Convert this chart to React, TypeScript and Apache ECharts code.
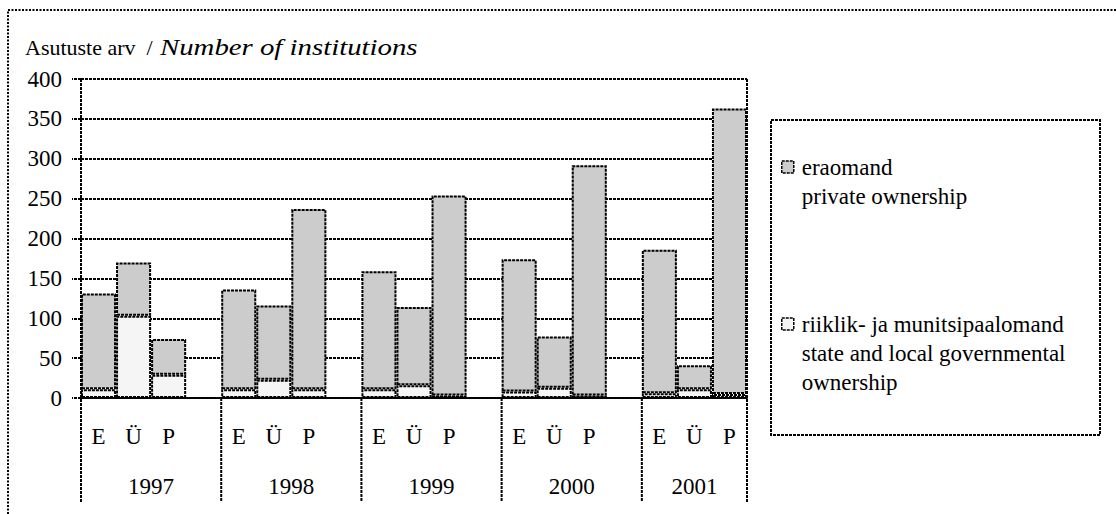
import React, { useEffect, useRef } from "react";
import * as echarts from "echarts";

const years = ["1997", "1998", "1999", "2000", "2001"];
const types = ["E", "Ü", "P"];
// order per year: E, Ü, P
const stateOwned = [
  [11, 103, 29],
  [11, 23, 11],
  [11, 16, 3],
  [8, 13, 3],
  [6, 11, 5],
];
const privateOwned = [
  [120, 67, 45],
  [125, 93, 226],
  [148, 98, 251],
  [166, 64, 289],
  [180, 30, 358],
];
const privateName = "eraomand\nprivate ownership";
const stateName = "riiklik- ja munitsipaalomand\nstate and local governmental\nownership";
const titleMain = "Asutuste arv  /";
const titleEn = "Number of institutions";
const yMin = 0;
const yMax = 400;
const yStep = 50;

const FONT = "Liberation Serif";
const DASH = [3, 1];
const FS = 23;

export default function App() {
  const ref = useRef<HTMLDivElement>(null);

  useEffect(() => {
    document.body.style.margin = "0";
    if (!ref.current) return;
    const chart = echarts.init(ref.current, null, { renderer: "svg" });

    const cats: string[] = [];
    const stateData: (number | string)[] = [];
    const privData: (number | string)[] = [];
    const boundaries: number[] = [];
    const centers: { pos: number; label: string }[] = [];
    years.forEach((y, i) => {
      const start = cats.length;
      boundaries.push(start);
      types.forEach((t, j) => {
        cats.push(t);
        stateData.push(stateOwned[i][j]);
        privData.push(privateOwned[i][j]);
      });
      if (i < years.length - 1) {
        cats.push("");
        stateData.push("-");
        privData.push("-");
      }
      centers.push({ pos: (start + cats.length) / 2, label: y });
    });
    const nSlots = cats.length;
    boundaries.push(nSlots);

    const lineStyle = { color: "#000", width: 2, type: DASH };
    const txt = { fontFamily: FONT, fontSize: FS, color: "#000", fontWeight: "normal" };

    chart.setOption({
      animation: false,
      textStyle: { fontFamily: FONT, color: "#000" },
      grid: { left: 81, top: 79, width: 666, height: 319, containLabel: false },
      legend: [
        {
          data: [privateName],
          left: 781,
          top: 167 - 43.5,
          padding: 0,
          orient: "vertical",
          itemWidth: 12,
          itemHeight: 12,
          icon: "rect",
          selectedMode: false,
          formatter: (n: string) => "\n" + n,
          itemStyle: { color: "#cccccc", borderColor: "#000", borderWidth: 1.5, borderType: DASH },
          textStyle: { ...txt, lineHeight: 29, padding: [0, 0, 0, 3] },
        },
        {
          data: [stateName],
          left: 781,
          top: 324 - 72.5,
          padding: 0,
          orient: "vertical",
          itemWidth: 12,
          itemHeight: 12,
          icon: "rect",
          selectedMode: false,
          formatter: (n: string) => "\n\n" + n,
          itemStyle: { color: "#f5f5f5", borderColor: "#000", borderWidth: 1.5, borderType: DASH },
          textStyle: { ...txt, lineHeight: 29, padding: [0, 0, 0, 3] },
        },
      ],
      xAxis: [
        {
          type: "category",
          data: cats,
          boundaryGap: true,
          axisLine: { show: true, lineStyle },
          axisTick: { show: false },
          splitLine: { show: false },
          axisLabel: { ...txt, interval: 0, margin: 27 },
        },
        {
          type: "value",
          min: 0,
          max: nSlots,
          interval: 0.5,
          position: "bottom",
          axisLine: { show: false },
          axisTick: { show: false },
          splitLine: { show: false },
          axisLabel: {
            ...txt,
            margin: 77,
            showMinLabel: true,
            showMaxLabel: true,
            formatter: (v: number) => {
              const c = centers.find((c) => Math.abs(c.pos - v) < 1e-6);
              return c ? c.label : "";
            },
          },
        },
      ],
      yAxis: {
        type: "value",
        min: yMin,
        max: yMax,
        interval: yStep,
        axisLine: { show: false },
        axisTick: { show: true, length: 9, lineStyle },
        splitLine: { show: true, lineStyle },
        axisLabel: { ...txt, margin: 19 },
      },
      series: [
        {
          name: stateName,
          type: "bar",
          stack: "total",
          barWidth: "100%",
          data: stateData,
          itemStyle: { color: "#f5f5f5", borderColor: "#000", borderWidth: 2, borderType: DASH },
        },
        {
          name: privateName,
          type: "bar",
          stack: "total",
          barWidth: "100%",
          data: privData,
          itemStyle: { color: "#cccccc", borderColor: "#000", borderWidth: 2, borderType: DASH },
        },
        {
          type: "custom",
          xAxisIndex: 1,
          clip: false,
          silent: true,
          data: boundaries.map((b) => [b]),
          renderItem: (params: any, api: any) => {
            const b = api.value(0);
            const p0 = api.coord([b, yMin]);
            const pTop = api.coord([b, yMax]);
            const edge = b === 0 || b === nSlots;
            return {
              type: "line",
              shape: { x1: p0[0], y1: edge ? pTop[1] : p0[1], x2: p0[0], y2: p0[1] + 104 },
              style: { stroke: "#000", lineWidth: 2, lineDash: DASH },
            };
          },
        },
      ],
      graphic: [
        {
          type: "text",
          x: 25,
          y: 47,
          silent: true,
          style: {
            text: titleMain,
            fontFamily: FONT,
            fontSize: 22,
            fill: "#000",
            verticalAlign: "middle",
            align: "left",
          },
        },
        {
          type: "text",
          x: 160,
          y: 47,
          scaleX: 1.2,
          silent: true,
          style: {
            text: titleEn,
            fontFamily: FONT,
            fontSize: 24,
            fontStyle: "italic",
            fill: "#000",
            verticalAlign: "middle",
            align: "left",
          },
        },
        {
          type: "polyline",
          shape: { points: [[8, 514], [8, 10], [1116, 10]] },
          style: { stroke: "#000", lineWidth: 2, lineDash: [2, 1.5], fill: "none" },
          silent: true,
        },
        {
          type: "rect",
          shape: { x: 771, y: 120, width: 329, height: 315 },
          style: { stroke: "#000", lineWidth: 2, lineDash: DASH, fill: "none" },
          silent: true,
          z: -1,
        },
      ],
    });

    return () => chart.dispose();
  }, []);

  return (
    <div
      ref={ref}
      style={{ position: "absolute", left: 0, top: 0, width: 1116, height: 514, background: "#fff" }}
    />
  );
}
